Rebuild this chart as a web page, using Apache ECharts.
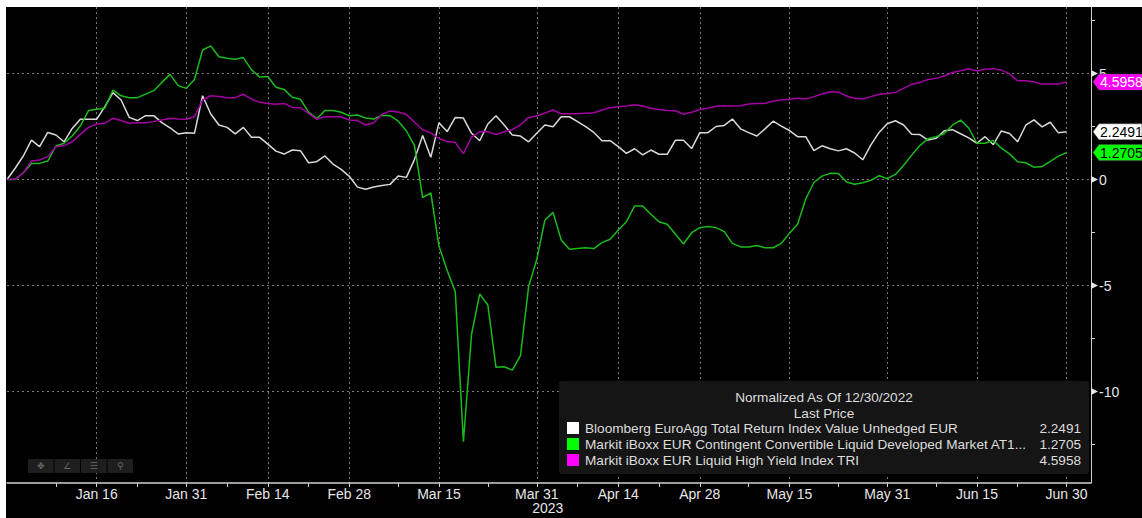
<!DOCTYPE html>
<html><head><meta charset="utf-8">
<script src="https://cdn.jsdelivr.net/npm/echarts@6/dist/echarts.min.js"></script>
<style>
html,body{margin:0;padding:0;background:#fff;width:1142px;height:518px;overflow:hidden}
#c{position:absolute;left:6px;top:7px;width:1136px;height:511px;background:#000}
</style></head><body><div id="c"></div>
<script>
const FONT = 'Liberation Sans, Arial, sans-serif';
const seriesNames = [
  'Bloomberg EuroAgg Total Return Index Value Unhedged EUR',
  'Markit iBoxx EUR Contingent Convertible Liquid Developed Market AT1...',
  'Markit iBoxx EUR Liquid High Yield Index TRI'
];
const lastPrices = ['2.2491', '1.2705', '4.5958'];
const lineColors = ['#d9d9d9', '#1bbb1b', '#a400a4'];
const tagColors = ['#ffffff', '#00ff00', '#ff00ff'];
const tagTextColors = ['#000000', '#000000', '#ffffff'];

// Bloomberg EuroAgg (white)
const euroAgg = [0,0.53,1.11,1.86,1.55,2.22,2.10,1.78,2.41,2.84,2.84,2.84,3.44,4.10,3.75,2.93,2.78,3.01,3.01,2.68,
2.44,2.15,2.21,2.18,3.95,3.09,2.57,2.46,2.15,2.46,1.99,1.99,1.67,1.34,1.20,1.39,1.36,0.79,0.84,1.11,
0.73,0.48,0.15,-0.36,-0.46,-0.35,-0.28,-0.23,0.17,0.10,0.95,2.08,1.05,2.68,2.26,2.93,2.90,2.18,1.83,2.62,
3.01,2.57,2.10,2.05,1.78,2.18,2.57,2.49,2.96,2.96,2.73,2.49,2.22,1.83,1.83,1.55,1.23,1.45,1.16,1.39,
1.19,1.19,1.85,1.85,1.46,2.21,2.21,2.50,2.55,2.85,2.39,2.21,2.05,2.39,2.75,2.52,2.31,2.02,2.02,1.36,
1.59,1.45,1.35,1.45,1.25,0.93,1.63,2.22,2.63,2.77,2.57,2.13,2.12,1.86,1.94,2.30,2.35,2.16,1.96,1.71,
2.02,1.65,2.29,2.17,1.78,2.56,2.81,2.48,2.70,2.20,2.2491];

// Markit iBoxx EUR CoCo AT1 (green)
const coco = [0,0.00,0.32,0.76,0.76,0.87,1.58,1.71,2.05,2.52,3.25,3.31,3.36,4.22,3.95,3.86,3.86,4.03,4.19,4.58,
4.96,4.43,4.30,4.72,6.11,6.30,5.79,5.72,5.67,5.75,5.17,4.83,4.86,4.35,4.25,3.88,3.79,3.18,2.87,3.25,
3.25,3.17,3.01,3.04,2.90,2.85,3.03,3.01,2.75,2.30,1.60,-0.85,-0.63,-3.14,-4.28,-5.29,-12.37,-7.29,-5.40,-5.92,
-8.86,-8.83,-8.99,-8.31,-5.05,-3.77,-1.91,-1.55,-2.85,-3.29,-3.25,-3.22,-3.26,-2.98,-2.82,-2.38,-1.99,-1.25,-1.25,-1.64,
-1.99,-2.11,-2.57,-3.04,-2.51,-2.27,-2.22,-2.27,-2.46,-3.01,-3.18,-3.18,-3.11,-3.22,-3.22,-3.01,-2.54,-2.11,-0.92,-0.14,
0.16,0.29,0.28,-0.12,-0.22,-0.15,-0.04,0.18,0.04,0.24,0.66,1.15,1.60,1.92,2.02,2.17,2.56,2.80,2.43,1.71,
1.71,1.84,1.48,1.21,0.84,0.79,0.58,0.61,0.85,1.10,1.2705];

// Markit iBoxx EUR Liquid High Yield (magenta)
const highYield = [0,0.02,0.32,0.87,0.92,1.08,1.55,1.60,1.78,2.13,2.46,2.62,2.65,2.89,2.78,2.65,2.68,2.68,2.73,2.81,
2.89,2.85,2.84,2.96,3.75,3.95,3.91,3.86,3.86,4.02,3.80,3.64,3.59,3.55,3.59,3.40,3.39,3.12,2.84,2.96,
2.96,2.96,2.81,2.78,2.57,2.68,3.07,3.23,3.18,3.07,2.70,2.35,2.20,1.93,1.79,1.74,1.22,2.00,2.25,2.26,
2.12,2.25,2.35,2.58,2.93,3.00,3.14,3.28,3.10,3.10,3.10,3.13,3.15,3.28,3.38,3.43,3.47,3.53,3.47,3.36,
3.30,3.25,3.24,3.08,3.17,3.30,3.36,3.46,3.48,3.47,3.48,3.56,3.58,3.59,3.70,3.75,3.78,3.83,3.80,3.91,
4.03,4.14,4.12,3.94,3.83,3.80,3.91,4.02,4.06,4.11,4.30,4.49,4.58,4.72,4.77,4.88,5.05,5.13,5.22,5.12,
5.20,5.23,5.16,4.98,4.66,4.66,4.61,4.50,4.50,4.50,4.5958];

const majorLabels = ['Jan 16','Jan 31','Feb 14','Feb 28','Mar 15','Mar 31','Apr 14','Apr 28','May 15','May 31','Jun 15','Jun 30'];
const minorLabels = ['Jan 9','Jan 23','Feb 7','Feb 21','Mar 8','Mar 23','Apr 7','Apr 21','May 8','May 23','Jun 8','Jun 22'];
const yLabelValues = [-10, -5, 0, 5];
const yMinorValues = [-12.5, -7.5, -2.5, 2.5, 7.5];
const yMin = -14.316, yMax = 8.137;

// trading-day categories Dec 30 2022 .. Jul 5 2023 (last 3 are empty padding on the right)
const monthNames = ['Jan','Feb','Mar','Apr','May','Jun','Jul','Aug','Sep','Oct','Nov','Dec'];
const categories = [];
for (let d = new Date(Date.UTC(2022, 11, 30)); d <= new Date(Date.UTC(2023, 6, 5)); d.setUTCDate(d.getUTCDate() + 1)) {
  const w = d.getUTCDay();
  if (w === 0 || w === 6) continue;
  categories.push(monthNames[d.getUTCMonth()] + ' ' + d.getUTCDate());
}

const chart = echarts.init(document.getElementById('c'), null, {renderer: 'svg', width: 1136, height: 511});
const gridStyle = {color: '#7a7a7a', width: 1, type: [2, 3]};
const axisCol = '#d0d0d0';
const option = {
  backgroundColor: '#000',
  animation: false,
  grid: {left: 1, right: 51, top: 0, bottom: 35, containLabel: false},
  xAxis: [{
    type: 'category', data: categories, boundaryGap: false,
    axisLine: {show: true, onZero: false, lineStyle: {color: axisCol, width: 1.5}},
    axisTick: {show: true, interval: (i, v) => majorLabels.includes(v) || minorLabels.includes(v), length: 4, lineStyle: {color: axisCol}},
    axisLabel: {interval: (i, v) => majorLabels.includes(v), color: '#e6e6e6', fontSize: 14, lineHeight: 14, fontFamily: FONT, margin: 4},
    splitLine: {show: true, interval: (i, v) => majorLabels.includes(v), lineStyle: gridStyle}
  }],
  yAxis: [{
    type: 'value', position: 'right', min: yMin, max: yMax,
    axisLine: {show: true, onZero: false, lineStyle: {color: axisCol, width: 1}},
    axisTick: {show: false, customValues: yLabelValues},
    axisLabel: {customValues: yLabelValues, color: '#e6e6e6', fontSize: 14, fontFamily: FONT, margin: 8},
    splitLine: {show: true, lineStyle: gridStyle}
  }, {
    type: 'value', position: 'right', min: yMin, max: yMax,
    axisLine: {show: false, onZero: false},
    axisTick: {show: true, customValues: yMinorValues, length: 4, lineStyle: {color: axisCol}},
    axisLabel: {show: false},
    splitLine: {show: false}
  }],
  series: [
    {name: seriesNames[0], type: 'line', data: euroAgg, symbol: 'none', lineStyle: {color: lineColors[0], width: 1.5}, itemStyle: {color: lineColors[0]}, silent: true},
    {name: seriesNames[1], type: 'line', data: coco, symbol: 'none', lineStyle: {color: lineColors[1], width: 1.5}, itemStyle: {color: lineColors[1]}, silent: true},
    {name: seriesNames[2], type: 'line', data: highYield, symbol: 'none', lineStyle: {color: lineColors[2], width: 1.5}, itemStyle: {color: lineColors[2]}, silent: true}
  ]
};
chart.setOption(option);

// overlay elements positioned through the chart's own scales
const g = [];
const axisX = chart.convertToPixel({xAxisIndex: 0}, categories[categories.length - 1]);
// major tick triangles
yLabelValues.forEach(v => {
  const y = chart.convertToPixel({yAxisIndex: 0}, v);
  g.push({type: 'polygon', shape: {points: [[axisX, y - 3.5], [axisX + 7, y], [axisX, y + 3.5]]}, style: {fill: '#e6e6e6'}, z: 50});
});
// last price tags
const lastVals = [euroAgg[euroAgg.length - 1], coco[coco.length - 1], highYield[highYield.length - 1]];
lastVals.forEach((v, k) => {
  const y = chart.convertToPixel({yAxisIndex: 0}, v);
  const x0 = axisX + 2, x1 = axisX + 8, x2 = 1136, h = 8;
  g.push({type: 'polygon', shape: {points: [[x0, y], [x1, y - h], [x2, y - h], [x2, y + h], [x1, y + h]]},
          style: {fill: tagColors[k], stroke: '#555', lineWidth: 0.5}, z: 60});
  g.push({type: 'text', x: x1 + 1, y: y, style: {text: lastPrices[k], fill: tagTextColors[k], font: '14px ' + FONT, textVerticalAlign: 'middle', verticalAlign: 'middle'}, z: 61});
});
// year label under Mar 31
const mar31 = chart.convertToPixel({xAxisIndex: 0}, 'Mar 31');
g.push({type: 'text', x: mar31 + 11, y: 501, style: {text: '2023', fill: '#e6e6e6', font: '14px ' + FONT, lineHeight: 13, align: 'center', textAlign: 'center', verticalAlign: 'middle', textVerticalAlign: 'middle'}, z: 50});
// legend box
const lx = 553, ly = 374, lw = 530, lh = 93;
const LF = '13.6px ' + FONT;
g.push({type: 'rect', shape: {x: lx, y: ly, width: lw, height: lh, r: 3}, style: {fill: '#151515'}, z: 70});
const cx = lx + lw / 2;
g.push({type: 'text', x: cx, y: 390, style: {text: 'Normalized As Of 12/30/2022', fill: '#dcdcdc', font: LF, align: 'center', textAlign: 'center', verticalAlign: 'middle', textVerticalAlign: 'middle'}, z: 71});
g.push({type: 'text', x: cx, y: 406, style: {text: 'Last Price', fill: '#dcdcdc', font: LF, align: 'center', textAlign: 'center', verticalAlign: 'middle', textVerticalAlign: 'middle'}, z: 71});
seriesNames.forEach((n, k) => {
  const y = 421 + k * 16;
  g.push({type: 'rect', shape: {x: 561, y: y - 6, width: 12, height: 12}, style: {fill: tagColors[k]}, z: 71});
  g.push({type: 'text', x: 579, y: y, style: {text: n, fill: '#dcdcdc', font: LF, verticalAlign: 'middle', textVerticalAlign: 'middle'}, z: 71});
  g.push({type: 'text', x: 1075, y: y, style: {text: lastPrices[k], fill: '#dcdcdc', font: LF, align: 'right', textAlign: 'right', verticalAlign: 'middle', textVerticalAlign: 'middle'}, z: 71});
});
// toolbar
const icons = ['✥', '∠', '☰', '⚲'];
icons.forEach((ic, k) => {
  const x = 22 + k * 26.5;
  g.push({type: 'rect', shape: {x: x, y: 452, width: 25.5, height: 14}, style: {fill: '#1e1e1e'}, z: 50});
  g.push({type: 'text', x: x + 12.75, y: 459, style: {text: ic, fill: '#6a6a6a', font: '9px DejaVu Sans', align: 'center', textAlign: 'center', verticalAlign: 'middle', textVerticalAlign: 'middle'}, z: 51});
});
chart.setOption({graphic: {elements: g}});
</script></body></html>
